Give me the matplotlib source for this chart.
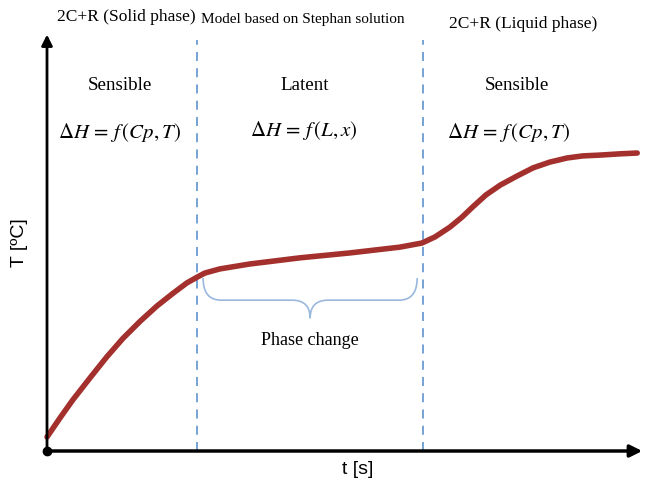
import matplotlib.pyplot as plt
import numpy as np
from matplotlib.path import Path
from matplotlib.patches import PathPatch

# curve (t, T in arbitrary 0-100 units)
t_vals = [0, 2.2, 4.3, 7.2, 10.0, 12.7, 15.6, 18.4, 21.1, 23.4, 25.1, 26.4, 28.9,
          33.9, 42.3, 50.7, 59.0, 62.7, 64.9, 67.4, 69.4, 71.2, 73.4, 75.8, 78.6,
          81.3, 84.1, 87.0, 89.6, 92.5, 95.8, 98.7]
T_vals = [3.4, 8.1, 12.4, 17.8, 22.9, 27.4, 31.6, 35.3, 38.4, 40.9, 42.3, 43.3, 44.3,
          45.5, 47.0, 48.2, 49.6, 50.6, 52.1, 54.5, 56.9, 59.4, 62.3, 64.7, 66.9,
          68.9, 70.3, 71.3, 71.8, 72.0, 72.3, 72.5]
bounds = [25.1, 62.9]

top_labels = ['2C+R (Solid phase)', 'Model based on Stephan solution', '2C+R (Liquid phase)']
region_names = ['Sensible', 'Latent', 'Sensible']
region_eqs = [r'$\Delta H\,=\,f\,(Cp,T)$', r'$\Delta H\,=\,f\,(L,x)$', r'$\Delta H\,=\,f\,(Cp,T)$']

plt.rcParams['mathtext.fontset'] = 'stix'
serif = 'Liberation Serif'

fig = plt.figure(figsize=(6.48, 4.91), dpi=100)
ax = fig.add_axes([47/648, 40/491, 598/648, 411/491])
ax.set_xlim(0, 100)
ax.set_ylim(0, 100)
ax.axis('off')

# axes with arrows
ax.annotate('', xy=(100, 0), xytext=(0, 0),
            arrowprops=dict(arrowstyle='-|>', lw=2.5, color='black', mutation_scale=18),
            annotation_clip=False)
ax.annotate('', xy=(0, 102), xytext=(0, 0),
            arrowprops=dict(arrowstyle='-|>', lw=2.0, color='black', mutation_scale=16),
            annotation_clip=False)
ax.plot([0], [0], 'o', color='black', ms=6, clip_on=False)

for b in bounds:
    ax.plot([b, b], [0, 100], ls=(0, (5, 4)), color='#6b9bd2', lw=1.3)

ax.plot(t_vals, T_vals, color='#a3302d', lw=4, solid_capstyle='round',
        solid_joinstyle='round', clip_on=False)

# brace under the latent part
x0, x1 = 26.1, 61.9
xm = (x0 + x1) / 2
y_top, y_mid, y_tip = 42.1, 36.7, 32.3
verts = [(x0, y_top), (x0, y_mid), (x0 + 3, y_mid),
         (xm - 3, y_mid), (xm, y_mid), (xm, y_tip),
         (xm, y_mid), (xm + 3, y_mid),
         (x1 - 3, y_mid), (x1, y_mid), (x1, y_top)]
codes = [Path.MOVETO, Path.CURVE3, Path.CURVE3,
         Path.LINETO, Path.CURVE3, Path.CURVE3,
         Path.CURVE3, Path.CURVE3,
         Path.LINETO, Path.CURVE3, Path.CURVE3]
ax.add_patch(PathPatch(Path(verts, codes), fill=False, edgecolor='#9ab8dd', lw=1.2))
ax.text(xm, 27, 'Phase change', ha='center', va='center', fontsize=13, family=serif)

# region texts
name_x = [12.2, 43.1, 78.6]
eq_x = [12.2, 42.9, 77.1]
eq_y = [77.4, 78.0, 77.4]
for nx, ex, ey, name, eq in zip(name_x, eq_x, eq_y, region_names, region_eqs):
    ax.text(nx, 89.0, name, ha='center', va='center', fontsize=13.7, family=serif)
    ax.text(ex, ey, eq, ha='center', va='center', fontsize=15)

fig.text(126/648, 1 - 17/491, top_labels[0], ha='center', va='center', fontsize=12.5, family=serif)
fig.text(303/648, 1 - 20/491, top_labels[1], ha='center', va='center', fontsize=11, family=serif)
fig.text(523/648, 1 - 24/491, top_labels[2], ha='center', va='center', fontsize=12.5, family=serif)

fig.text(20/648, 1 - 243/491, 'T [ºC]', rotation=90, ha='center', va='center', fontsize=14, family='Liberation Sans')
fig.text(358/648, 1 - 470/491, 't [s]', ha='center', va='center', fontsize=14, family='Liberation Sans')

fig.savefig('out.png', dpi=100)
